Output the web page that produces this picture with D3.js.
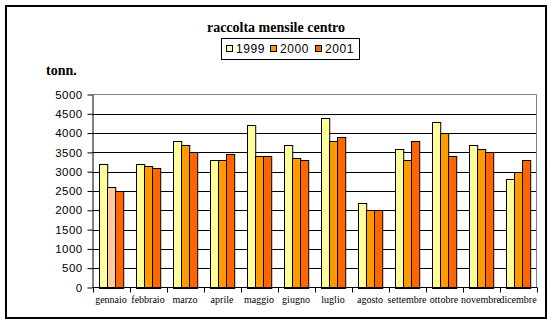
<!DOCTYPE html>
<html>
<head>
<meta charset="utf-8">
<script src="https://cdn.jsdelivr.net/npm/d3@7"></script>
<style>
  html, body { margin: 0; padding: 0; background: #fff; }
  svg { display: block; }
</style>
</head>
<body>
<svg id="chart" width="552" height="324"></svg>
<script>
// Monthly collection data (tonnes), centre area
const months = ["gennaio", "febbraio", "marzo", "aprile", "maggio", "giugno",
                "luglio", "agosto", "settembre", "ottobre", "novembre", "dicembre"];
const years = ["1999", "2000", "2001"];
const values1999 = [3200, 3200, 3800, 3300, 4200, 3700, 4400, 2200, 3600, 4300, 3700, 2800];
const values2000 = [2600, 3150, 3700, 3300, 3400, 3350, 3800, 2000, 3300, 4000, 3600, 3000];
const values2001 = [2500, 3100, 3500, 3450, 3400, 3300, 3900, 2000, 3800, 3400, 3500, 3300];
const yTicks = [0, 500, 1000, 1500, 2000, 2500, 3000, 3500, 4000, 4500, 5000];

const seriesValues = [values1999, values2000, values2001];
const colors = ["#FFFF99", "#FF9900", "#FF6600"];

const svg = d3.select("#chart");

// Outer frame
svg.append("rect")
  .attr("x", 6).attr("y", 6).attr("width", 540).attr("height", 312)
  .attr("fill", "#fff").attr("stroke", "#000").attr("stroke-width", 2);

const plot = { left: 92.5, right: 536.5, top: 94.5, bottom: 287.5 };

const x = d3.scaleBand().domain(months).range([plot.left, plot.right]).paddingInner(0).paddingOuter(0);
const y = d3.scaleLinear().domain([0, 5000]).range([plot.bottom, plot.top]);

// Bars within a band: Excel-like gap width of 150%
const barW = x.bandwidth() / 4.5;
const groupOffset = barW * 0.75;

// Gridlines
svg.append("g")
  .selectAll("line")
  .data(yTicks.filter(t => t > 0 && t < 5000))
  .join("line")
  .attr("x1", plot.left).attr("x2", plot.right)
  .attr("y1", d => Math.round(y(d)) + 0.5).attr("y2", d => Math.round(y(d)) + 0.5)
  .attr("stroke", "#000").attr("stroke-width", 1);

// Plot border (top and right in grey)
svg.append("path")
  .attr("d", `M${plot.left},${plot.top}H${plot.right}V${plot.bottom}`)
  .attr("fill", "none").attr("stroke", "#808080").attr("stroke-width", 1);

// Bars
const rows = [];
months.forEach((m, i) => {
  seriesValues.forEach((vals, s) => {
    rows.push({ month: m, series: s, value: vals[i] });
  });
});

svg.append("g")
  .selectAll("rect")
  .data(rows)
  .join("rect")
  .attr("x", d => Math.round(x(d.month) + groupOffset + d.series * barW) + 0.5)
  .attr("y", d => Math.round(y(d.value)) + 0.5)
  .attr("width", barW)
  .attr("height", d => Math.round(y(0)) - Math.round(y(d.value)))
  .attr("fill", d => (d.month === "gennaio" && d.series === 1) ? "#FFCC99" : colors[d.series])
  .attr("stroke", "#000").attr("stroke-width", 1);

// Y axis
const yAxis = d3.axisLeft(y).tickValues(yTicks).tickSize(5).tickSizeOuter(0).tickFormat(d3.format("d"));
const yg = svg.append("g").attr("transform", `translate(${plot.left},0)`).call(yAxis);
yg.select(".domain").attr("stroke", "#000");
yg.selectAll(".tick line").attr("stroke", "#000");
yg.selectAll(".tick text")
  .attr("x", -10)
  .attr("font-family", "Liberation Sans, Arial, sans-serif")
  .attr("font-size", 11.5)
  .attr("letter-spacing", 0.4)
  .attr("fill", "#000");

// X axis: ticks at band boundaries
const xg = svg.append("g").attr("transform", `translate(0,${plot.bottom})`);
xg.append("line")
  .attr("x1", plot.left).attr("x2", plot.right + 1)
  .attr("y1", 0).attr("y2", 0).attr("stroke", "#000");
const boundaries = months.map(m => x(m)).concat([plot.right]);
xg.selectAll("line.tk")
  .data(boundaries)
  .join("line")
  .attr("class", "tk")
  .attr("x1", d => Math.round(d) + 0.5).attr("x2", d => Math.round(d) + 0.5)
  .attr("y1", 0).attr("y2", 5)
  .attr("stroke", "#000");
xg.selectAll("text")
  .data(months)
  .join("text")
  .attr("x", d => x(d) + x.bandwidth() / 2)
  .attr("y", 15)
  .attr("text-anchor", "middle")
  .attr("font-family", "Liberation Serif, Times New Roman, serif")
  .attr("font-size", 10)
  .attr("fill", "#000")
  .text(d => d);

// Title
svg.append("text")
  .attr("x", 276).attr("y", 32)
  .attr("text-anchor", "middle")
  .attr("font-family", "Liberation Serif, Times New Roman, serif")
  .attr("font-weight", "bold")
  .attr("font-size", 14)
  .text("raccolta mensile centro");

// Axis unit
svg.append("text")
  .attr("x", 46).attr("y", 75)
  .attr("font-family", "Liberation Serif, Times New Roman, serif")
  .attr("font-weight", "bold")
  .attr("font-size", 14)
  .text("tonn.");

// Legend
const legend = svg.append("g");
legend.append("rect")
  .attr("x", 221.5).attr("y", 38.5).attr("width", 138).attr("height", 21)
  .attr("fill", "#fff").attr("stroke", "#000").attr("stroke-width", 1);
const legendX = [226, 270, 315];
years.forEach((yr, i) => {
  legend.append("rect")
    .attr("x", legendX[i] + 0.5).attr("y", 45.5).attr("width", 6).attr("height", 6)
    .attr("fill", colors[i]).attr("stroke", "#000").attr("stroke-width", 1);
  legend.append("text")
    .attr("x", legendX[i] + 10).attr("y", 53)
    .attr("font-family", "Liberation Sans, Arial, sans-serif")
    .attr("font-size", 12)
    .attr("letter-spacing", 0.6)
    .text(yr);
});
</script>
</body>
</html>
